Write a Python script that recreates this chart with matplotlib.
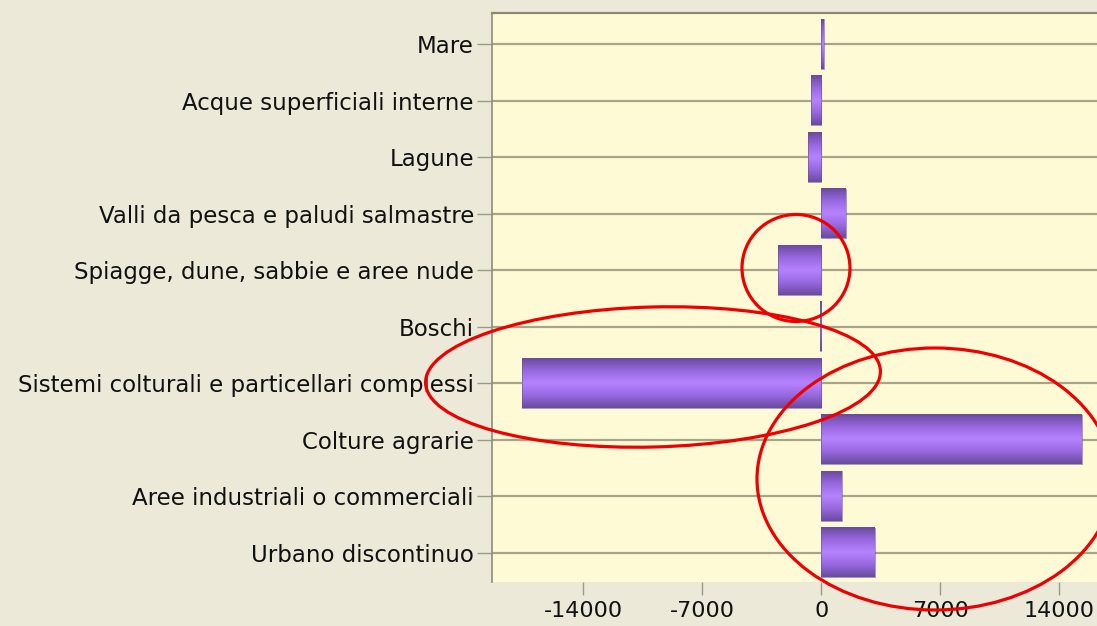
import numpy as np
import matplotlib
matplotlib.use('Agg')
import matplotlib.pyplot as plt
from matplotlib.patches import Ellipse
from matplotlib.colors import LinearSegmentedColormap
from matplotlib.transforms import IdentityTransform

# data (top to bottom)
categorie = ['Mare', 'Acque superficiali interne', 'Lagune',
             'Valli da pesca e paludi salmastre',
             'Spiagge, dune, sabbie e aree nude', 'Boschi',
             'Sistemi colturali e particellari complessi', 'Colture agrarie',
             'Aree industriali o commerciali', 'Urbano discontinuo']
valori = [150, -600, -800, 1450, -2550, -100, -17600, 15300, 1200, 3150]
xticks = [-14000, -7000, 0, 7000, 14000]

plt.rcParams['font.family'] = ['DejaVu Sans']

W, H = 1097, 626
fig = plt.figure(figsize=(W / 100, H / 100), dpi=100, facecolor='#ECE9D8')
ax = fig.add_axes([492 / W, 1 - 582 / H, 627 / W, 569 / H])
ax.set_facecolor('#FFFAD6')

# purple gradient for the bars
cmap = LinearSegmentedColormap.from_list('viola', ['#6A4C9E', '#9868E0', '#B683FF', '#9868E0', '#6A4C9E'])
grad = np.linspace(0, 1, 64).reshape(-1, 1)
h = 0.44
ypos = np.arange(len(categorie))
for y, v in zip(ypos, valori):
    ax.imshow(grad, cmap=cmap, aspect='auto', extent=(min(0, v), max(0, v), y + h, y - h),
              zorder=3, interpolation='bilinear')
    ax.barh(y, v, height=2 * h, color='none', edgecolor='#6A4C9E', linewidth=0.4, zorder=4)

ax.set_xlim(-19350, 17500)
ax.set_ylim(9.52, -0.55)
ax.set_yticks(ypos)
ax.set_yticklabels(categorie, fontsize=16.5, color='#111111')
ax.set_xticks(xticks)
ax.set_xticklabels([str(t) for t in xticks], fontsize=16, color='#111111')
ax.tick_params(axis='y', length=11, width=1, color='#9A9A8A', pad=2)
ax.tick_params(axis='x', length=9, width=1, color='#9A9A8A', pad=5)
for y in ypos:
    ax.axhline(y, color='#A8A487', lw=1.6, zorder=1)
ax.spines['right'].set_visible(False)
ax.spines['bottom'].set_visible(False)
ax.spines['top'].set_color('#8C8970')
ax.spines['top'].set_linewidth(1.6)
ax.spines['left'].set_color('#8C8C80')
ax.spines['left'].set_linewidth(1.2)

# red hand-drawn ellipses (pixel coordinates, origin bottom-left)
ell = [((796, H - 268), 108, 107, 0),
       ((653, H - 377), 455, 140, 1.5),
       ((935, H - 479), 356, 262, 0)]
for (c, w, hh, a) in ell:
    fig.patches.append(Ellipse(c, w, hh, angle=a, fill=False, edgecolor='#EE0000', lw=2.3,
                               transform=IdentityTransform(), figure=fig, zorder=10))

fig.savefig('out.png', dpi=100, facecolor=fig.get_facecolor())
